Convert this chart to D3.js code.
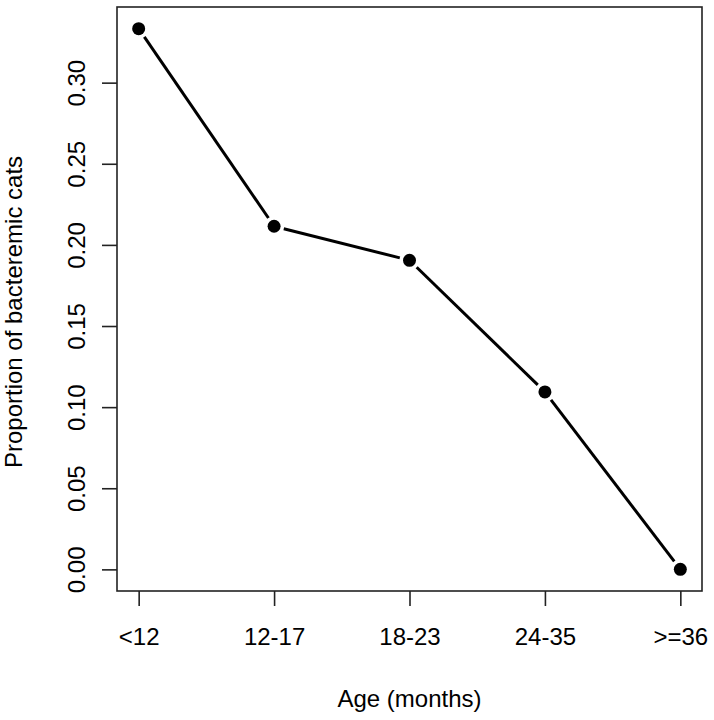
<!DOCTYPE html>
<html>
<head>
<meta charset="utf-8">
<script src="https://cdn.jsdelivr.net/npm/d3@7"></script>
<style>
html,body{margin:0;padding:0;background:#fff;}
svg{display:block;}
text{font-family:"Liberation Sans",Arial,Helvetica,sans-serif;fill:#000;}
</style>
</head>
<body>
<svg id="chart" width="714" height="720"></svg>
<script>
const categories = ["<12", "12-17", "18-23", "24-35", ">=36"];
const proportions = [0.3333, 0.2115, 0.1905, 0.1094, 0.0];
const yTicks = [0.00, 0.05, 0.10, 0.15, 0.20, 0.25, 0.30];
const xTitle = "Age (months)";
const yTitle = "Proportion of bacteremic cats";

(function () {
const pLeft = 117, pRight = 702, pTop = 7, pBottom = 591;
const fs = 24;

const svg = d3.select("#chart");

// R-style 4% extension
const xmin = 1, xmax = categories.length;
const xpad = (xmax - xmin) * 0.04;
const x = d3.scaleLinear().domain([xmin - xpad, xmax + xpad]).range([pLeft, pRight]);
const ymin = d3.min(proportions), ymax = d3.max(proportions);
const ypad = (ymax - ymin) * 0.04;
const y = d3.scaleLinear().domain([ymin - ypad, ymax + ypad]).range([pBottom, pTop]);

// box
svg.append("rect")
  .attr("x", pLeft).attr("y", pTop)
  .attr("width", pRight - pLeft).attr("height", pBottom - pTop)
  .attr("fill", "none").attr("stroke", "#222").attr("stroke-width", 1.6);

// y axis
const yAxis = svg.append("g").attr("transform", `translate(${pLeft},0)`)
  .call(d3.axisLeft(y).tickValues(yTicks).tickSize(15).tickFormat(d3.format(".2f")));
yAxis.select(".domain").remove();
yAxis.selectAll(".tick line").attr("stroke", "#222").attr("stroke-width", 1.6);
yAxis.selectAll(".tick text").remove();
yAxis.selectAll(".tick").append("text")
  .attr("transform", "translate(-32,0) rotate(-90)")
  .attr("text-anchor", "middle")
  .attr("font-size", fs)
  .text(d => d3.format(".2f")(d));

// x axis
const xAxis = svg.append("g").attr("transform", `translate(0,${pBottom})`)
  .call(d3.axisBottom(x).tickValues(d3.range(1, categories.length + 1)).tickSize(15).tickFormat(d => categories[d - 1]));
xAxis.select(".domain").remove();
xAxis.selectAll(".tick line").attr("stroke", "#222").attr("stroke-width", 1.6);
xAxis.selectAll(".tick text").remove();
xAxis.selectAll(".tick").append("text")
  .attr("y", 54)
  .attr("text-anchor", "middle")
  .attr("font-size", fs)
  .text(d => categories[d - 1]);

// titles
svg.append("text").attr("x", (pLeft + pRight) / 2).attr("y", 707)
  .attr("text-anchor", "middle").attr("font-size", fs).text(xTitle);
svg.append("text")
  .attr("transform", `translate(22,312) rotate(-90)`)
  .attr("text-anchor", "middle").attr("font-size", fs).text(yTitle);

// data
const pts = proportions.map((v, i) => [x(i + 1), y(v)]);
const gap = 10;
for (let i = 0; i < pts.length - 1; i++) {
  const [x1, y1] = pts[i], [x2, y2] = pts[i + 1];
  const dx = x2 - x1, dy = y2 - y1, L = Math.hypot(dx, dy);
  const ux = dx / L, uy = dy / L;
  svg.append("line")
    .attr("x1", x1 + ux * gap).attr("y1", y1 + uy * gap)
    .attr("x2", x2 - ux * gap).attr("y2", y2 - uy * gap)
    .attr("stroke", "#000").attr("stroke-width", 3);
}
svg.selectAll("circle.pt").data(pts).enter().append("circle")
  .attr("class", "pt")
  .attr("cx", d => d[0]).attr("cy", d => d[1]).attr("r", 6.5)
  .attr("fill", "#000");
})();
</script>
</body>
</html>
